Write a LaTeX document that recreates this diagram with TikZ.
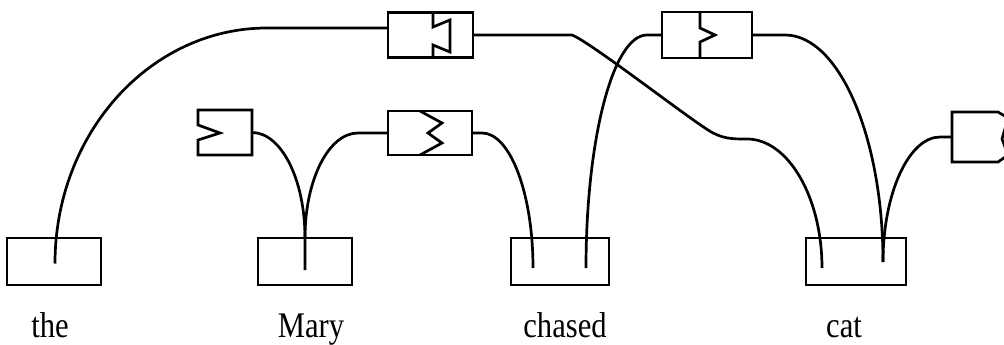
\documentclass[tikz,border=0pt]{standalone}
\usepackage{fontspec}
\setmainfont{Liberation Serif}
\newfontfamily\etiqueta[FakeStretch=0.85]{Liberation Serif}
\usepackage{tikz}
\usetikzlibrary{positioning, calc}

\begin{document}
\begin{tikzpicture}[x=1pt, y=-1pt, line width=2.7pt,
    palabra/.style={draw, rectangle, minimum width=94pt, minimum height=47pt, inner sep=0pt, outer sep=0pt},
    enlace/.style={rectangle, minimum width=#1, minimum height=45pt, inner sep=0pt, outer sep=0pt},
    texto/.style={anchor=base, font=\etiqueta\fontsize{36}{43}\selectfont}]
  \useasboundingbox (0,0) rectangle (1004,345);

  % Cajas de las palabras
  \node[palabra] (the) at (54,261.5) {};
  \node[palabra] (mary) at (305,261.5) {};
  \node[palabra, minimum width=98pt] (chased) at (560,261.5) {};
  \node[palabra, minimum width=100pt] (cat) at (856,261.5) {};

  \node[texto] (t-the) at (50,337) {the};
  \node[texto] (t-mary) at (311,337) {Mary};
  \node[texto] (t-chased) at (565,337) {chased};
  \node[texto] (t-cat) at (844,337) {cat};

  % Puntos finales dentro de las cajas
  \coordinate (the-fin) at (55,263.5);
  \coordinate (mary-fin) at (305,270);
  \coordinate (chased-izq) at (533,268);
  \coordinate (chased-der) at (586,268);
  \coordinate (cat-izq) at (822,268);
  \coordinate (cat-der) at (883,262);

  % Conectores con muesca
  \node[enlace=85pt, draw] (A) at (430.5,35) {};
  \draw[shift={(A.center)}] (2.5,-22.5) -- (2.5,-8) -- (19.5,-15) -- (19.5,17) -- (2.5,10) -- (2.5,22.5);

  \node[enlace=90pt, minimum height=46pt, draw] (B) at (707,35) {};
  \draw[shift={(B.center)}] (-7,-23) -- (-7,-7) -- (8,0) -- (-7,7) -- (-7,23);

  \node[enlace=54pt] (C) at (225,132.5) {};
  \draw[shift={(C.center)}] (-27,-22.5) -- (27,-22.5) -- (27,22.5) -- (-27,22.5)
    -- (-27,7.5) -- (-5,0.5) -- (-27,-7.5) -- cycle;

  \node[enlace=84pt, minimum height=44pt, draw] (D) at (430,133) {};
  \draw[shift={(D.center)}] (-10,-22) -- (12,-10) -- (-2,0) -- (12,10) -- (-10,22);

  \node[enlace=46pt, minimum height=50pt] (E) at (975,137) {};
  \draw[shift={(E.center)}] (-23,-25) -- (23,-25) -- (33,-19) -- (27,2) -- (33,18)
    -- (23,25) -- (-23,25) -- cycle;

  % Enlaces
  \draw (the-fin) .. controls +(0,-130) and +(-117,0) .. (267,28) -- ($(A.west)+(0,-7)$);
  \draw (C.east) .. controls +(29,0) and +(0,-59) .. (mary.north) -- (mary-fin);
  \draw (D.west) -- ++(-30,0) .. controls +(-29,0) and +(0,-59) .. (mary.north);
  \draw (D.east) -- ++(10,0) .. controls +(28,0) and +(0,-75) .. (chased-izq);
  \draw (chased-der) .. controls +(0,-129) and +(-34,0) .. (647,35) -- (B.west);
  \draw (A.east) -- (572,35) .. controls (590,42) and (680,112) .. (708,130)
    .. controls (722,139) and (732,139) .. (747,139) .. controls +(41,0) and +(0,-71) .. (cat-izq);
  \draw (B.east) -- (785,35) .. controls +(54,0) and +(0,-125) .. (cat-der);
  \draw (E.west) -- (940,137) .. controls +(-31,0) and +(0,-69) .. (cat-der);
\end{tikzpicture}
\end{document}
